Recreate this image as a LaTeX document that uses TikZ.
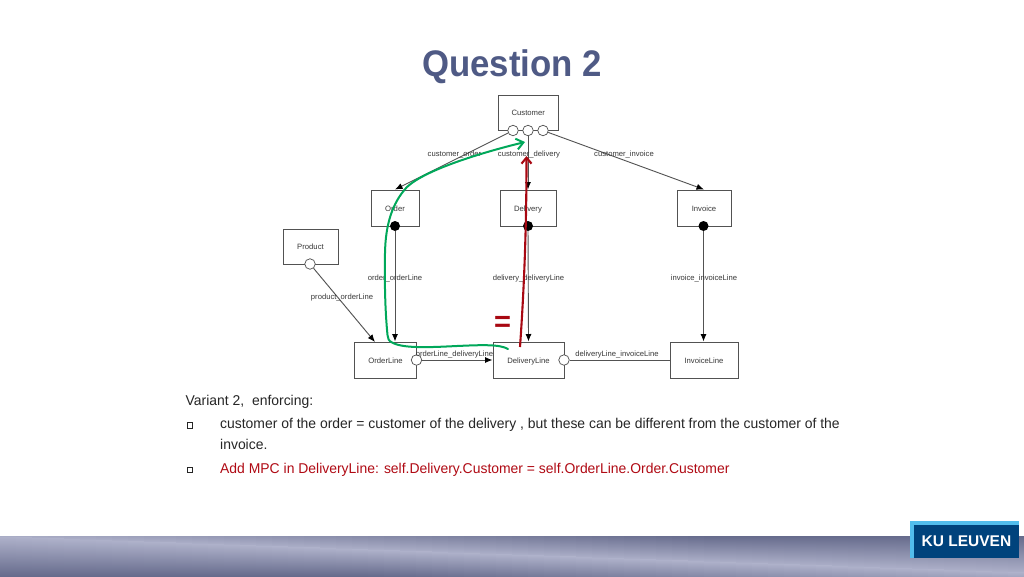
\documentclass[tikz,border=0pt]{standalone}
\usepackage{fontspec}
\setmainfont{Liberation Sans}
\usetikzlibrary{arrows.meta,shadings}
\definecolor{titleblue}{HTML}{4F5A85}
\definecolor{mpcred}{HTML}{B00A14}
\definecolor{darkred}{HTML}{A80812}
\definecolor{mygreen}{HTML}{00A85A}
\definecolor{banddark}{HTML}{666B8C}
\definecolor{bandlight}{HTML}{ADB0C9}
\definecolor{kublue}{HTML}{00437C}
\definecolor{kulight}{HTML}{52BDEC}
\newcommand{\cl}[1]{\raisebox{-3pt}[0pt][0pt]{#1}}
\tikzset{
  cls/.style={draw=black!68,line width=1pt,fill=white,inner sep=0pt,font=\fontsize{7.7}{10}\selectfont,text=black!78},
  lbl/.style={inner sep=0pt,font=\fontsize{7.65}{10}\selectfont,text=black!78},
  hollow/.style={circle,draw=black!70,fill=white,line width=0.7pt,minimum size=10.5pt,inner sep=0pt},
  solid/.style={circle,fill=black,minimum size=10pt,inner sep=0pt},
  dep/.style={draw=black!68,line width=0.9pt,-{Latex[length=7.5pt,width=6pt,black]}},
  plain/.style={draw=black!68,line width=0.9pt},
  body/.style={inner sep=0pt,anchor=base west,xscale=0.981,font=\fontsize{14.2}{17}\selectfont,text=black!85},
  bullet/.style={draw=black!85,line width=0.8pt,fill=white,minimum size=5.5pt,inner sep=0pt},
}
\begin{document}
\begin{tikzpicture}[x=1pt,y=-1pt]
\useasboundingbox (0,0) rectangle (1024,576);
\fill[white] (0,0) rectangle (1024,576);
% bottom band: a light ridge running slightly downhill from left to right
\foreach \i in {0,...,63}{
  \pgfmathsetmacro{\xa}{\i*16}
  \pgfmathsetmacro{\xb}{\i*16+16.6}
  \pgfmathsetmacro{\ridge}{537+(\i+0.5)/64*36}
  \pgfmathsetmacro{\pt}{max(0,100-100*(\ridge-536)/26)}
  \pgfmathsetmacro{\pb}{max(0,100-100*(576-\ridge)/26)}
  \colorlet{striptop}{bandlight!\pt!banddark}
  \colorlet{stripbot}{bandlight!\pb!banddark}
  \shade[top color=striptop,bottom color=bandlight,draw=none] (\xa,536) rectangle (\xb,\ridge);
  \shade[top color=bandlight,bottom color=stripbot,draw=none] (\xa,\ridge) rectangle (\xb,576);
}
% title
\node[inner sep=0pt,text=titleblue,font=\bfseries\fontsize{37}{40}\selectfont,xscale=0.94] (title) at (512,67) {Question 2};
% classes
\node[cls,minimum width=60.5pt,minimum height=35pt] (customer) at (528.25,112.5) {\cl{Customer}};
\node[cls,minimum width=48pt,minimum height=36pt] (order) at (395,208) {\cl{Order}};
\node[cls,minimum width=56pt,minimum height=36pt] (delivery) at (528,208) {\cl{Delivery}};
\node[cls,minimum width=54pt,minimum height=36pt] (invoice) at (704,208) {\cl{Invoice}};
\node[cls,minimum width=55pt,minimum height=35pt] (product) at (310.5,246.5) {\cl{Product}};
\node[cls,minimum width=62pt,minimum height=36pt] (orderline) at (385.5,360) {\cl{OrderLine}};
\node[cls,minimum width=71pt,minimum height=36pt] (deliveryline) at (528.5,360) {\cl{DeliveryLine}};
\node[cls,minimum width=68pt,minimum height=36pt] (invoiceline) at (704,360) {\cl{InvoiceLine}};
% connectors
\node[hollow] (c1) at (513,130.5) {};
\node[hollow] (c2) at (528,130.5) {};
\node[hollow] (c3) at (543,130.5) {};
\node[solid] (o1) at (395,226) {};
\node[solid] (d1) at (528,226) {};
\node[solid] (i1) at (703.5,226) {};
\node[hollow] (p1) at (310,264) {};
\node[hollow] (ol1) at (416.5,360) {};
\node[hollow] (dl1) at (564,360) {};
\draw[dep] (c1) -- (order.north);
\draw[dep] (c2) -- (delivery.north);
\draw[dep] (c3) -- (invoice.north);
\draw[dep] (o1) -- (orderline.north -| o1);
\draw[dep] (d1) -- (deliveryline.north);
\draw[dep] (i1) -- (invoiceline.north -| i1);
\draw[dep] (p1) -- (375,342);
\draw[dep] (ol1) -- (deliveryline.west);
\draw[plain] (dl1) -- (invoiceline.west);
% labels
\node[lbl] (l1) at (454.5,154) {customer\_order};
\node[lbl] (l2) at (529,155) {customer\_delivery};
\node[lbl] (l3) at (624,154) {customer\_invoice};
\node[lbl] (l4) at (395,278) {order\_orderLine};
\node[lbl] (l5) at (528.5,278.5) {delivery\_deliveryLine};
\node[lbl] (l6) at (704,278) {invoice\_invoiceLine};
\node[lbl] (l7) at (342,297.5) {product\_orderLine};
\node[lbl] (l8) at (454.5,354.5) {orderLine\_deliveryLine};
\node[lbl] (l9) at (617,354.5) {deliveryLine\_invoiceLine};
% green curve
\coordinate (gstart) at (508,349);
\coordinate (gend) at (525,142);
\draw[mygreen,line width=2pt,line cap=round,-{Straight Barb[length=7pt,width=11pt]}]
  (gstart) .. controls (500,344) and (480,345) .. (457,346)
  .. controls (435,347) and (405,349) .. (393,343)
  .. controls (388,341) and (388,338) .. (387.5,335)
  .. controls (385,310) and (384.5,280) .. (385,253)
  .. controls (385.5,225) and (392,203) .. (407,187)
  .. controls (425,170) and (480,153) .. (gend);
% red arrow
\coordinate (redstart) at (520,347);
\coordinate (redend) at (526.5,156);
\draw[darkred,line width=2.1pt,-{Straight Barb[length=6pt,width=10pt]}]
  (redstart) .. controls (524,290) and (526.5,230) .. (redend);
% equals
\node[inner sep=0pt,text=darkred,font=\bfseries\fontsize{29}{29}\selectfont] (eq) at (502.5,323.5) {=};
% text
\node[body] (t0) at (185.5,405) {Variant 2,\ \ enforcing:};
\node[bullet] (b1) at (190,425.5) {};
\node[body] (t1) at (220,428) {customer of the order = customer of the delivery , but these can be different from the customer of the};
\node[body] (t2) at (220,449) {invoice.};
\node[bullet] (b2) at (190,470) {};
\node[body,text=mpcred] (t3) at (220,473.5) {Add MPC in DeliveryLine: self.Delivery.Customer = self.OrderLine.Order.Customer};
% logo
\fill[kulight] (910,521) rectangle (1019,558);
\node[fill=kublue,minimum width=105pt,minimum height=32.5pt,inner sep=0pt,text=white,font=\bfseries\fontsize{15.5}{16}\selectfont] (ku) at (966.5,541.5) {KU LEUVEN};
\end{tikzpicture}
\end{document}
